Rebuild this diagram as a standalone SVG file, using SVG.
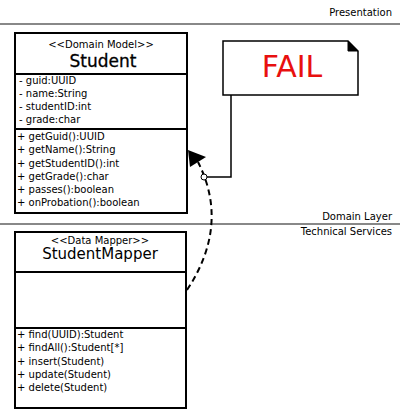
<svg xmlns="http://www.w3.org/2000/svg" width="400" height="417" viewBox="0 0 400 417">
<style>
text{font-family:"DejaVu Sans","Liberation Sans",sans-serif;fill:#000}
.s{font-size:10px}
.st{font-size:10px;text-anchor:middle}
.t{font-size:15px;text-anchor:middle}
.lay{font-size:10px;text-anchor:end}
.box{fill:#fff;stroke:#000;stroke-width:2}
.div{stroke:#000;stroke-width:2}
.layer{stroke:#888;stroke-width:2}
</style>
<rect width="400" height="417" fill="#fff"/>
<g id="layers">
<line class="layer" x1="0" y1="24" x2="400" y2="24"/>
<line class="layer" x1="0" y1="224" x2="400" y2="224"/>
<text class="lay" x="392" y="16">Presentation</text>
<text class="lay" x="392" y="220">Domain Layer</text>
<text class="lay" x="392" y="235">Technical Services</text>
</g>
<g id="student">
<rect class="box" x="15" y="33" width="172" height="180"/>
<line class="div" x1="15" y1="74" x2="187" y2="74"/>
<line class="div" x1="15" y1="129" x2="187" y2="129"/>
<text class="st" x="101" y="48">&lt;&lt;Domain Model&gt;&gt;</text>
<text x="103" y="67" font-size="17" text-anchor="middle" stroke="#000" stroke-width="0.3">Student</text>
<text class="s" x="19" y="84">- guid:UUID</text>
<text class="s" x="19" y="97">- name:String</text>
<text class="s" x="19" y="110">- studentID:int</text>
<text class="s" x="19" y="123">- grade:char</text>
<text class="s" x="17" y="140">+ getGuid():UUID</text>
<text class="s" x="17" y="153">+ getName():String</text>
<text class="s" x="17" y="167">+ getStudentID():int</text>
<text class="s" x="17" y="180">+ getGrade():char</text>
<text class="s" x="17" y="193">+ passes():boolean</text>
<text class="s" x="17" y="206">+ onProbation():boolean</text>
</g>
<g id="mapper">
<rect class="box" x="15" y="232" width="171" height="176"/>
<line class="div" x1="15" y1="272" x2="186" y2="272"/>
<line class="div" x1="15" y1="328" x2="186" y2="328"/>
<text class="st" x="100" y="244">&lt;&lt;Data Mapper&gt;&gt;</text>
<text class="t" x="100" y="259">StudentMapper</text>
<text class="s" x="17" y="338">+ find(UUID):Student</text>
<text class="s" x="17" y="351">+ findAll():Student[*]</text>
<text class="s" x="17" y="365">+ insert(Student)</text>
<text class="s" x="17" y="378">+ update(Student)</text>
<text class="s" x="17" y="391">+ delete(Student)</text>
</g>
<g id="note">
<path d="M223,41 H348 L358,51 V95 H223 Z" fill="#fff" stroke="#000" stroke-width="1.5"/>
<path d="M348,41 V51 H358 Z" fill="#000" stroke="#000" stroke-width="1"/>
<text x="292" y="77" font-size="30" text-anchor="middle" style="fill:#e8100f;font-family:'DejaVu Sans',sans-serif">FAIL</text>
</g>
<g id="connectors">
<path d="M187,290 Q230,225 198,162" fill="none" stroke="#000" stroke-width="2" stroke-dasharray="6,4"/>
<path d="M188,150 L206,157 L190,167 Z" fill="#000"/>
<polyline points="231,95 231,177 207,177" fill="none" stroke="#000" stroke-width="1.5"/>
<circle cx="204" cy="177" r="3" fill="#fff" stroke="#000" stroke-width="1"/>
</g>
</svg>
